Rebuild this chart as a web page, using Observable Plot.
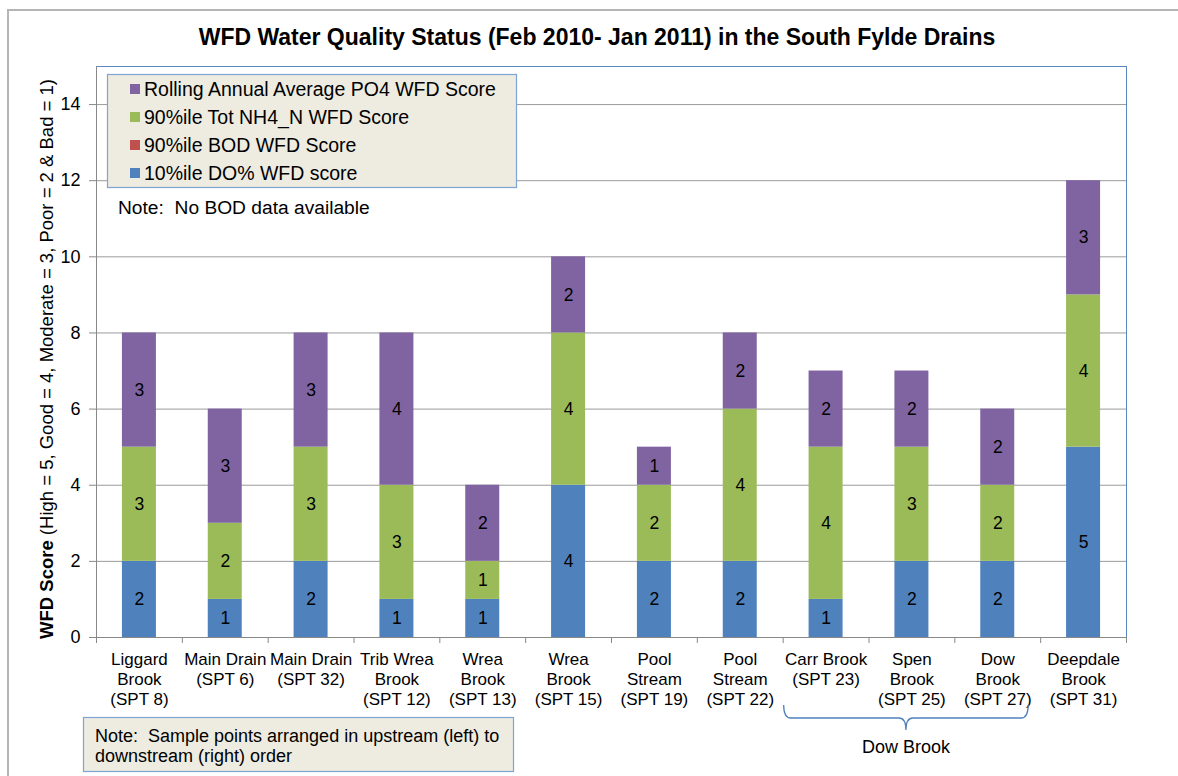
<!DOCTYPE html>
<html><head><meta charset="utf-8">
<script src="https://cdn.jsdelivr.net/npm/d3@7"></script>
<script src="https://cdn.jsdelivr.net/npm/@observablehq/plot@0.6"></script>
<style>
body{margin:0;background:#fff;}
#chart{position:relative;width:1178px;height:776px;font-family:"Liberation Sans",Arial,sans-serif;}
</style>
</head><body><div id="chart"></div>
<script>
// ---- data ----
const categories = [
  "Liggard\nBrook\n(SPT 8)", "Main Drain\n(SPT 6)", "Main Drain\n(SPT 32)", "Trib Wrea\nBrook\n(SPT 12)",
  "Wrea\nBrook\n(SPT 13)", "Wrea\nBrook\n(SPT 15)", "Pool\nStream\n(SPT 19)", "Pool\nStream\n(SPT 22)",
  "Carr Brook\n(SPT 23)", "Spen\nBrook\n(SPT 25)", "Dow\nBrook\n(SPT 27)", "Deepdale\nBrook\n(SPT 31)"
];
const seriesNames = ["10%ile DO% WFD score", "90%ile BOD WFD Score", "90%ile Tot NH4_N WFD Score", "Rolling Annual Average PO4 WFD Score"];
const seriesColors = ["#4f81bd", "#c0504d", "#9bbb59", "#8064a2"];
const doScore  = [2, 1, 2, 1, 1, 4, 2, 2, 1, 2, 2, 5];
const bodScore = [0, 0, 0, 0, 0, 0, 0, 0, 0, 0, 0, 0];
const nh4Score = [3, 2, 3, 3, 1, 4, 2, 4, 4, 3, 2, 4];
const po4Score = [3, 3, 3, 4, 2, 2, 1, 2, 2, 2, 2, 3];
const yTicks = [0, 2, 4, 6, 8, 10, 12, 14];
const titleText = "WFD Water Quality Status (Feb 2010- Jan 2011) in the South Fylde Drains";
const groupLabel = "Dow Brook";
const noteBOD = "Note:  No BOD data available";
const noteOrder = ["Note:  Sample points arranged in upstream (left) to", "downstream (right) order"];

// ---- build stacked segments ----
const seriesValues = [doScore, bodScore, nh4Score, po4Score];
const segments = [];
categories.forEach((c, i) => {
  let acc = 0;
  seriesValues.forEach((vals, s) => {
    const v = vals[i];
    segments.push({i, category: c, series: seriesNames[s], value: v, y1: acc, y2: acc + v});
    acc += v;
  });
});
const shown = segments.filter(d => d.value > 0);

const W = 1178, H = 776;
const mL = 96, mR = 52, mT = 66, mB = 139;
const band = (W - mL - mR) / categories.length;
const inset = (band - 34) / 2;
const font = '"Liberation Sans", Arial, sans-serif';

const svgPlot = Plot.plot({
  width: W, height: H,
  marginLeft: mL, marginRight: mR, marginTop: mT, marginBottom: mB,
  style: {fontFamily: font, fontSize: "17px", color: "#000", background: "transparent"},
  x: {type: "linear", domain: [0, categories.length], axis: null},
  y: {domain: [0, 15], axis: null},
  color: {domain: seriesNames, range: seriesColors},
  marks: [
    Plot.gridY(yTicks, {stroke: "#9a9a9a", strokeOpacity: 1}),
    Plot.frame({stroke: "#5b87c5"}),
    Plot.rect(shown, {x1: d => d.i, x2: d => d.i + 1, y1: "y1", y2: "y2", fill: "series", insetLeft: inset, insetRight: inset}),
    Plot.text(shown, {x: d => d.i + 0.5, y: d => (d.y1 + d.y2) / 2, text: d => String(d.value), fontSize: 17.5, fill: "#000"}),
    Plot.ruleY([0], {stroke: "#888"}),
    Plot.ruleX([0], {stroke: "#888"}),
    Plot.axisY({ticks: yTicks, tickSize: 7, tickPadding: 9, fontSize: 18, label: null, stroke: "#888", fill: "#000"}),
    Plot.axisX({ticks: d3.range(categories.length + 1), tickFormat: () => "", tickSize: 6, label: null, stroke: "#888"}),
    Plot.text(categories, {x: (d, i) => i + 0.5, y: 0, text: d => d, lineAnchor: "top", dy: 13, fontSize: 17, lineHeight: 1.18, fill: "#000"})
  ]
});
svgPlot.style.position = "absolute";
svgPlot.style.left = "0px";
svgPlot.style.top = "0px";
document.getElementById("chart").appendChild(svgPlot);

const xs = svgPlot.scale("x");
const svg = d3.select(svgPlot);
const g = svg.append("g").attr("font-family", font).attr("text-anchor", "start").attr("fill", "#000");

// outer chart border
g.append("path").attr("d", `M8,${H} L8,10 L${W},10`).attr("fill", "none").attr("stroke", "#b5b5b5").attr("stroke-width", 2);

// title
g.append("text").attr("x", 597).attr("y", 45).attr("text-anchor", "middle")
  .attr("font-size", 23).attr("font-weight", "bold").text(titleText);

// y label
const yl = g.append("text").attr("transform", `translate(53,359) rotate(-90)`).attr("text-anchor", "middle").attr("font-size", 18.5);
yl.append("tspan").attr("font-weight", "bold").text("WFD Score");
yl.append("tspan").text(" (High = 5, Good = 4, Moderate = 3, Poor = 2 & Bad = 1)");

// legend
const lg = g.append("g");
lg.append("rect").attr("x", 107.5).attr("y", 74.5).attr("width", 409).attr("height", 113)
  .attr("fill", "#eeece1").attr("stroke", "#7ea3d4").attr("stroke-width", 1.2);
const legendOrder = [3, 2, 1, 0];
legendOrder.forEach((s, k) => {
  const cy = 89 + k * 28;
  lg.append("rect").attr("x", 130).attr("y", cy - 5).attr("width", 10).attr("height", 10).attr("fill", seriesColors[s]);
  lg.append("text").attr("x", 144).attr("y", cy + 7).attr("text-anchor", "start").attr("font-size", 19.5).text(seriesNames[s]);
});
g.append("text").attr("x", 118).attr("y", 214).attr("text-anchor", "start").attr("font-size", 19.2).text(noteBOD);

// bottom note
g.append("rect").attr("x", 83.5).attr("y", 717.5).attr("width", 430).attr("height", 54)
  .attr("fill", "#eeece1").attr("stroke", "#7ea3d4").attr("stroke-width", 1.2);
noteOrder.forEach((t, k) => {
  g.append("text").attr("x", 95).attr("y", 742 + k * 20).attr("text-anchor", "start").attr("font-size", 18).text(t);
});

// brace under Dow Brook group
const bx1 = xs.apply(8) + 1, bx2 = xs.apply(11) - 12, bm = (bx1 + bx2) / 2;
const by0 = 705, by = 718, tip = 730;
g.append("path").attr("d",
  `M${bx1},${by0} Q${bx1},${by} ${bx1 + 7},${by} L${bm - 7},${by} Q${bm},${by} ${bm},${tip} Q${bm},${by} ${bm + 7},${by} L${bx2 - 7},${by} Q${bx2},${by} ${bx2},${by0}`)
  .attr("fill", "none").attr("stroke", "#4f81bd").attr("stroke-width", 1.3);
g.append("text").attr("x", bm).attr("y", 753).attr("text-anchor", "middle").attr("font-size", 18).text(groupLabel);
</script>
</body></html>
